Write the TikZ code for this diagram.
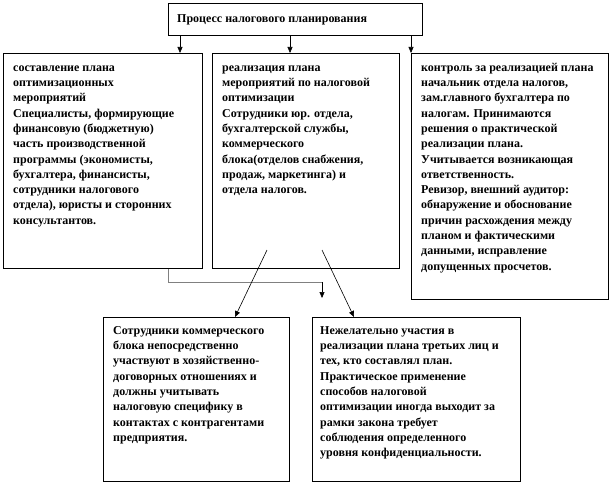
\documentclass[tikz,border=0pt]{standalone}
\usepackage{fontspec}
\setmainfont{Liberation Serif}
\usetikzlibrary{arrows.meta}
\newcommand{\fst}{\rule{0pt}{9pt}}
\begin{document}
\begin{tikzpicture}[x=1pt,y=-1pt,
  box/.style={draw, line width=0.8pt, anchor=north west, inner sep=0pt},
  txt/.style={anchor=north west, inner sep=0pt, align=left, font=\fontsize{12}{15.3}\selectfont\bfseries},
  arr/.style={-{Triangle[length=6pt,width=5pt]}, line width=0.6pt},
  grayline/.style={draw=gray, line width=0.6pt}]
\useasboundingbox (0,0) rectangle (612,484);
% boxes
\node[box, minimum width=254pt, minimum height=32pt] (top) at (168,3) {};
\node[box, minimum width=199pt, minimum height=215pt] (b1) at (3,53) {};
\node[box, minimum width=187pt, minimum height=215pt] (b2) at (212,53) {};
\node[box, minimum width=197pt, minimum height=246pt] (b3) at (411,53) {};
\node[box, minimum width=186pt, minimum height=164pt] (b4) at (103,317) {};
\node[box, minimum width=208pt, minimum height=164pt] (b5) at (312,317) {};
% texts
\node[txt, anchor=base west] (t0) at (177,23) {Процесс налогового планирования};
\node[txt] (t1) at (13,62) {\fst составление плана\\
оптимизационных\\
мероприятий\\
Специалисты,  формирующие\\
финансовую (бюджетную)\\
часть производственной\\
программы (экономисты,\\
бухгалтера,  финансисты,\\
сотрудники налогового\\
отдела),  юристы и сторонних\\
консультантов.};
\node[txt] (t2) at (222,62) {\fst реализация плана\\
мероприятий по налоговой\\
оптимизации\\
Сотрудники  юр. отдела,\\
бухгалтерской  службы,\\
коммерческого\\
блока(отделов  снабжения,\\
продаж, маркетинга)  и\\
отдела налогов.};
\node[txt] (t3) at (421,62) {\fst контроль за реализацией плана\\
начальник  отдела налогов,\\
зам.главного  бухгалтера  по\\
налогам. Принимаются\\
решения о практической\\
реализации плана.\\
Учитывается  возникающая\\
ответственность.\\
Ревизор, внешний аудитор:\\
обнаружение и обоснование\\
причин расхождения  между\\
планом и фактическими\\
данными, исправление\\
допущенных  просчетов.};
\node[txt] (t4) at (113,325) {\fst Сотрудники  коммерческого\\
блока непосредственно\\
участвуют в хозяйственно-\\
договорных  отношениях   и\\
должны  учитывать\\
налоговую специфику в\\
контактах  с контрагентами\\
предприятия.};
\node[txt] (t5) at (320,325) {\fst Нежелательно  участия в\\
реализации плана третьих  лиц  и\\
тех,  кто составлял план.\\
Практическое применение\\
способов налоговой\\
оптимизации иногда выходит за\\
рамки закона  требует\\
соблюдения определенного\\
уровня конфиденциальности.};
% connectors
\draw[arr] ([xshift=12pt]top.south west) -- ([xshift=12pt]top.south west |- b1.north);
\draw[arr] ([xshift=122pt]top.south west) -- ([xshift=122pt]top.south west |- b2.north);
\draw[arr] (top.south -| b3.north west) -- (b3.north west);
\coordinate (g1) at (168,282);
\coordinate (g2) at (322,282);
\coordinate (g3) at (322,298);
\draw[grayline] (b1.south -| g1) -- (g1) -- (g2);
\draw[arr] (g2) -- (g3);
\coordinate (d1) at (267,250);
\coordinate (d2) at (322,250);
\draw[arr] (d1) -- ([xshift=132pt]b4.north west);
\draw[arr] (d2) -- ([xshift=42pt]b5.north west);
\end{tikzpicture}
\end{document}
